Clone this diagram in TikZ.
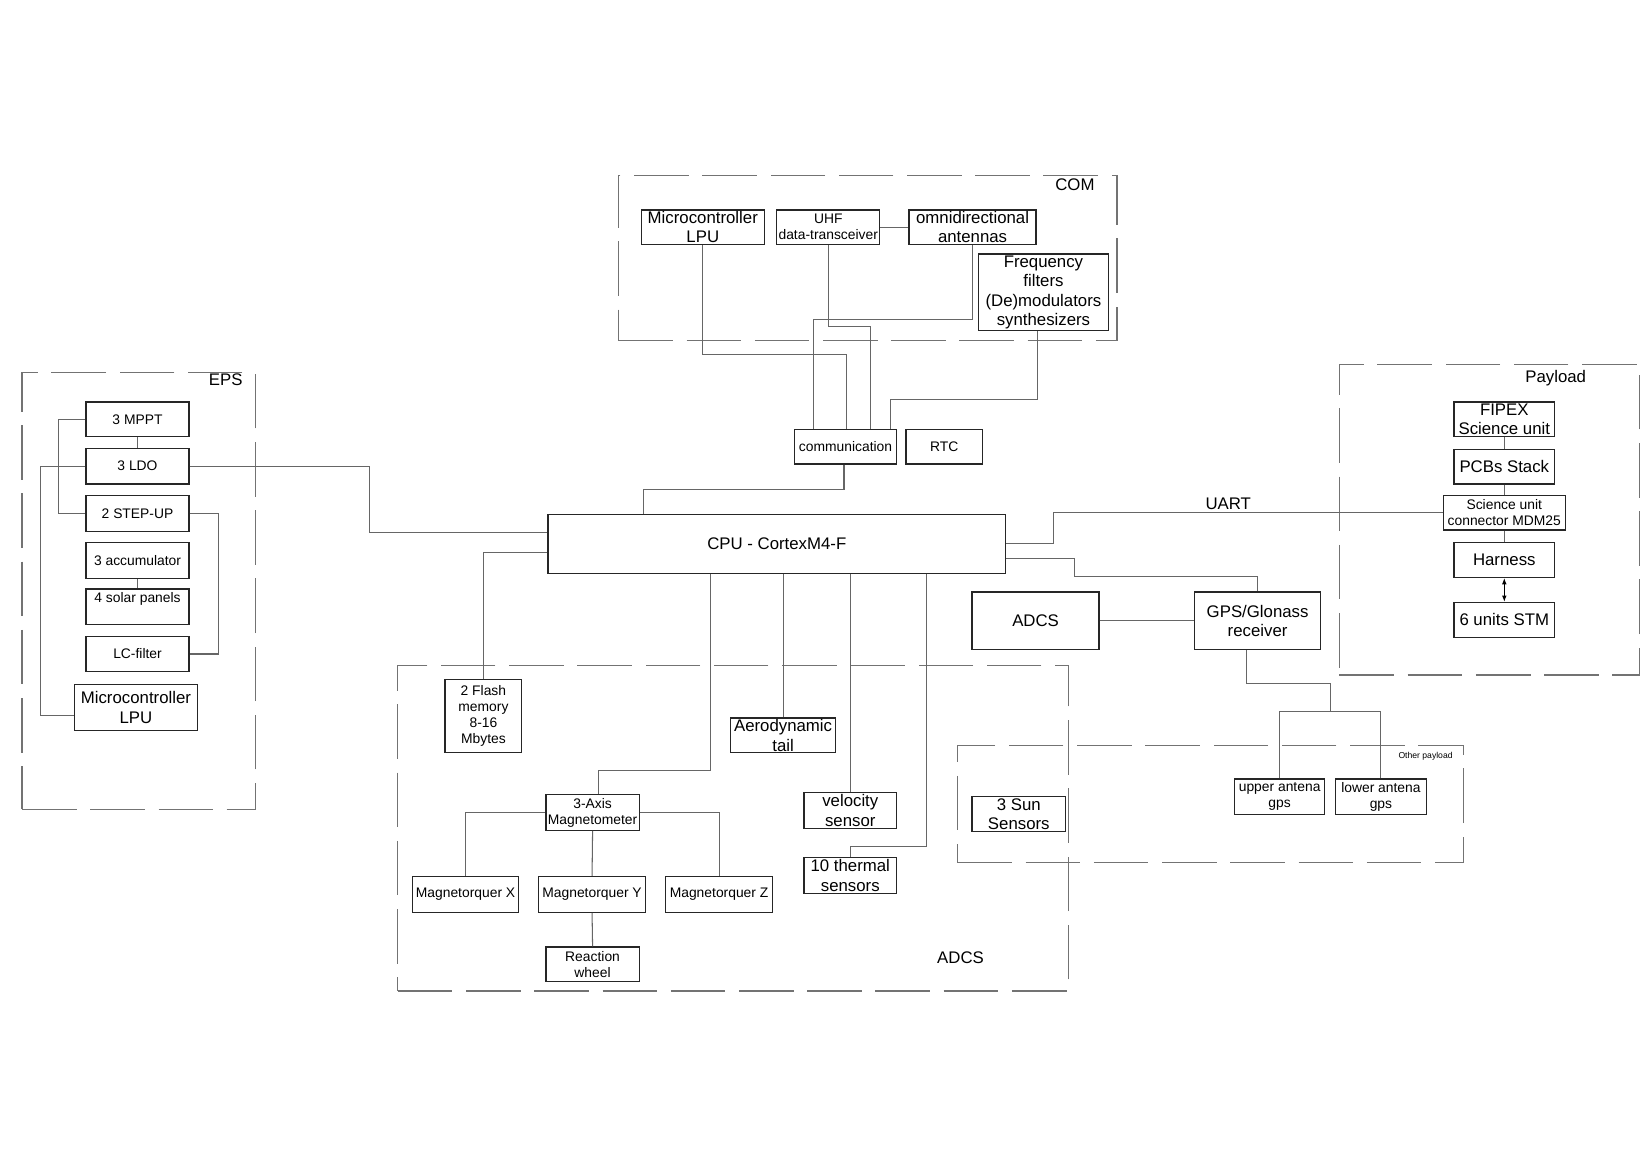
\documentclass[tikz,border=0pt]{standalone}
\usepackage{fontspec}
\setmainfont{Liberation Sans}
\usetikzlibrary{calc,arrows.meta}
\newcommand\blk[7][small]{%
  \pgfmathsetmacro\blkcx{(#3+#5)/2}%
  \pgfmathsetmacro\blkcy{(#4+#6)/2}%
  \pgfmathsetmacro\blkw{(#5-#3)*0.5}%
  \pgfmathsetmacro\blkh{(#6-#4)*0.5}%
  \node[box, minimum width=\blkw pt, minimum height=\blkh pt, label={[#1]center:{#7}}] (#2) at (\blkcx,\blkcy) {};}
\newcommand\frm[5]{%
  \pgfmathsetmacro\blkcx{(#2+#4)/2}%
  \pgfmathsetmacro\blkcy{(#3+#5)/2}%
  \pgfmathsetmacro\blkw{(#4-#2)*0.5}%
  \pgfmathsetmacro\blkh{(#5-#3)*0.5}%
  \node[frame, minimum width=\blkw pt, minimum height=\blkh pt] (#1) at (\blkcx,\blkcy) {};}
\begin{document}
\begin{tikzpicture}[x=0.5pt,y=-0.5pt,
  box/.style={draw=black!85, line width=0.6pt, inner sep=0pt},
  frame/.style={draw=black!55, line width=0.55pt, dash pattern=on 26pt off 6.5pt, inner sep=0pt},
  wire/.style={draw=black!60, line width=0.5pt},
  big/.style={font=\fontsize{8}{9.2}\selectfont, align=center, inner sep=0pt},
  small/.style={font=\fontsize{6.6}{7.6}\selectfont, align=center, inner sep=0pt},
  tiny/.style={font=\fontsize{4.1}{5}\selectfont, inner sep=0pt},
]
\fill[white] (0,0) rectangle (1568,1097);
\useasboundingbox (0,0) rectangle (1568,1097);

% ---------------- frames
\frm{comfr}{589}{167}{1064}{324}
\frm{epsfr}{21}{355}{243}{771}
\frm{payfr}{1276}{347}{1562}{643}
\frm{adcsfr}{379}{634}{1018}{944}
\frm{othfr}{912}{710}{1394}{822}

\node[big] (comlbl) at (1024,176) {COM};
\node[big] (epslbl) at (215,362) {EPS};
\node[big] (paylbl) at (1482,360) {Payload};
\node[big] (adcslbl) at (915,912) {ADCS};
\node[tiny] (othlbl) at (1358,720) {Other payload};
\node[big] (uartlbl) at (1170,480) {UART};

% ---------------- COM
\blk[big]{mlpuc}{611}{200}{728}{233}{Microcontroller\\LPU}
\blk[small]{uhf}{740}{200}{838}{233}{UHF\\data-transceiver}
\blk[big]{omni}{866}{200}{987}{233}{omnidirectional\\antennas}
\blk[big]{freq}{932}{242}{1056}{315}{Frequency\\filters\\(De)modulators\\synthesizers}
\blk[small]{comm}{757}{409}{854}{442}{communication}
\blk[small]{rtc}{863}{409}{936}{442}{RTC}

% ---------------- CPU
\blk[big]{cpu}{522}{490}{958}{546}{CPU - CortexM4-F}

% ---------------- EPS
\blk[small]{mppt}{82}{383}{180}{416}{3 MPPT}
\blk[small]{ldo}{82}{427}{180}{461}{3 LDO}
\blk[small]{stepup}{82}{472}{180}{506}{2 STEP-UP}
\blk[small]{accu}{82}{517}{180}{551}{3 accumulator}
\blk[{small,yshift=3.5pt}]{solar}{82}{561}{180}{595}{4 solar panels}
\blk[small]{lcf}{82}{606}{180}{640}{LC-filter}
\blk[big]{mlpue}{71}{652}{188}{696}{Microcontroller\\LPU}

% ---------------- Payload
\blk[big]{fipex}{1385}{383}{1481}{416}{FIPEX\\Science unit}
\blk[big]{pcbs}{1385}{428}{1481}{461}{PCBs Stack}
\blk[small]{scu}{1375}{472}{1491}{505}{Science unit\\connector MDM25}
\blk[big]{harn}{1385}{517}{1481}{550}{Harness}
\blk[big]{stm}{1385}{574}{1481}{607}{6 units STM}

% ---------------- GPS / ADCS right
\blk[big]{adcsb}{926}{564}{1047}{619}{ADCS}
\blk[big]{gps}{1138}{564}{1258}{619}{GPS/Glonass\\receiver}
\blk[small]{ua}{1176}{742}{1262}{776}{upper antena\\gps}
\blk[small]{la}{1272}{742}{1359}{776}{lower antena\\gps}
\blk[big]{sun}{926}{759}{1015}{792}{3 Sun\\Sensors}

% ---------------- ADCS group
\blk[small]{flash}{424}{647}{497}{717}{2 Flash\\memory\\8-16\\Mbytes}
\blk[big]{aero}{696}{684}{796}{717}{Aerodynamic\\tail}
\blk[big]{vel}{766}{755}{854}{789}{velocity\\sensor}
\blk[big]{therm}{766}{817}{854}{851}{10 thermal\\sensors}
\blk[small]{mag}{520}{757}{609}{791}{3-Axis\\Magnetometer}
\blk[small]{mx}{393}{835}{494}{869}{Magnetorquer X}
\blk[small]{my}{513}{835}{615}{869}{Magnetorquer Y}
\blk[small]{mz}{634}{835}{736}{869}{Magnetorquer Z}
\blk[small]{rw}{520}{902}{609}{935}{Reaction\\wheel}

% ---------------- connectors COM
\draw[wire] (uhf.east) -- (omni.west);
\draw[wire] (mlpuc.south) |- (806,338) -- (806,0 |- comm.north);
\draw[wire] (uhf.south) |- (829,311) -- (829,0 |- comm.north);
\draw[wire] (omni.south) |- (775,304) -- (775,0 |- comm.north);
\draw[wire] (988,0 |- freq.south) |- (848,381) -- (848,0 |- comm.north);
\draw[wire] (804,0 |- comm.south) |- (613,466) -- (613,0 |- cpu.north);

% ---------------- connectors EPS
\draw[wire] (mppt.south) -- (ldo.north);
\draw[wire] (accu.south) -- (solar.north);
\draw[wire] (mppt.west) -- (56,0 |- mppt.west) |- (stepup.west);
\draw[wire] (ldo.west) -- (39,0 |- ldo.west) |- ($(mlpue.west)+(0,8)$);
\draw[wire] (stepup.east) -- (208,0 |- stepup.east) |- (lcf.east);
\draw[wire] (ldo.east) -- (352,0 |- ldo.east) |- ($(cpu.north west)+(0,18)$);

% ---------------- connectors payload
\draw[wire] (fipex.south) -- (pcbs.north);
\draw[wire] (pcbs.south) -- (scu.north);
\draw[wire] (scu.south) -- (harn.north);
\draw[black, line width=0.5pt, {Latex[length=3pt,width=2.2pt]}-{Latex[length=3pt,width=2.2pt]}] (harn.south) -- (stm.north);
\draw[wire] ($(cpu.north east)+(0,28)$) -| (1004,0 |- scu.west) -- (scu.west);

% ---------------- connectors GPS
\draw[wire] ($(cpu.north east)+(0,43)$) -| (1024,549) -| (gps.north);
\draw[wire] (adcsb.east) -- (gps.west);
\draw[wire] (1187,0 |- gps.south) |- (1267,651) -- (1267,678);
\draw[wire] (ua.north) |- (1267,678);
\draw[wire] (la.north) |- (1267,678);

% ---------------- connectors ADCS
\draw[wire] ($(cpu.north west)+(0,37)$) -| (flash.north);
\draw[wire] (677,0 |- cpu.south) -- (677,734) -| (570,0 |- mag.north);
\draw[wire] (746,0 |- cpu.south) -- (aero.north);
\draw[wire] (810,0 |- cpu.south) -- (vel.north);
\draw[wire] (883,0 |- cpu.south) |- (810,806) -- (therm.north);
\draw[wire] (mag.west) -| (mx.north);
\draw[wire] (mag.east) -| (mz.north);
\draw[wire] (mag.south) -- (my.north);
\draw[wire] (my.south) -- (rw.north);
\end{tikzpicture}
\end{document}
